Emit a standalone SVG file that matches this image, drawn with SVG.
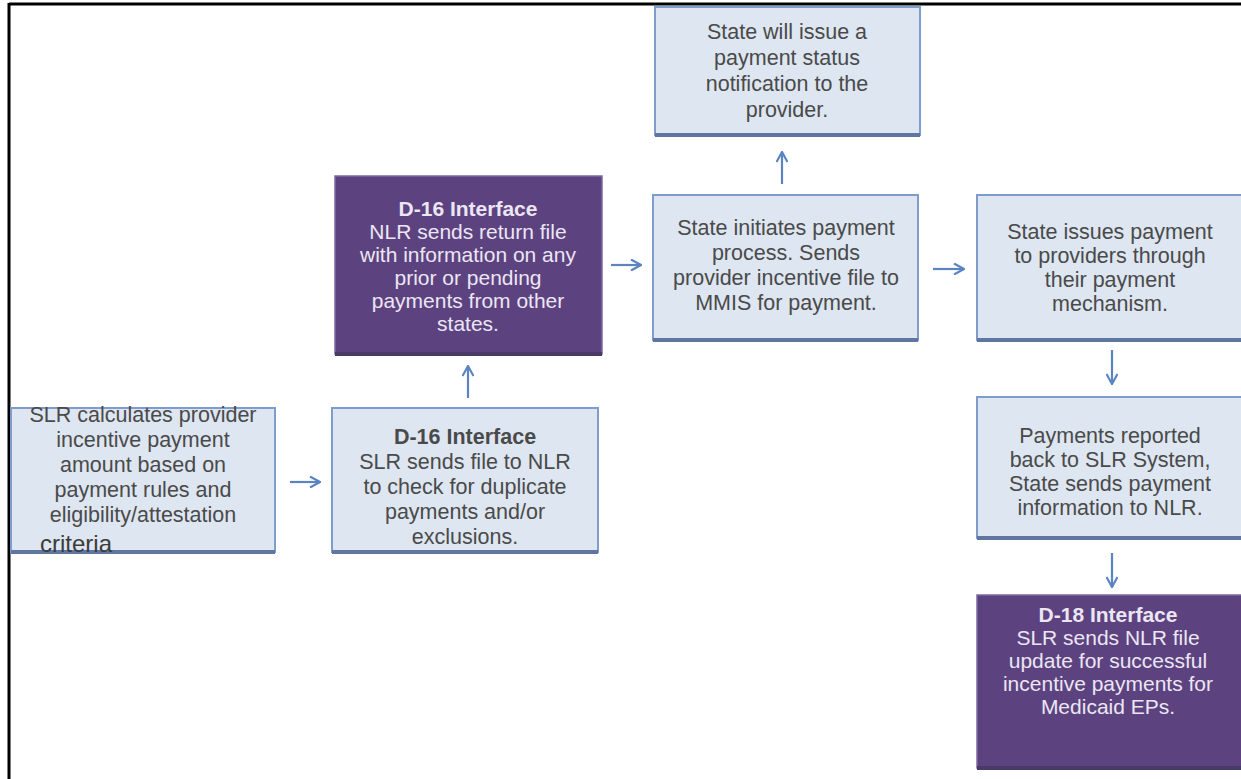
<svg xmlns="http://www.w3.org/2000/svg" width="1241" height="779" viewBox="0 0 1241 779">
<style>
.lb{fill:#dde6f1;stroke:#7f9ccb;stroke-width:2}
.pb{fill:#5c4380;stroke:#7d6aa0;stroke-width:1.5}
.sh{stroke:#5f77a0;stroke-width:4}
.shp{stroke:#4a3a68;stroke-width:4}
.t{font-family:"Liberation Sans",Arial,sans-serif;font-size:21.5px;fill:#4a4a4a;text-anchor:middle}
.tp{font-family:"Liberation Sans",Arial,sans-serif;font-size:21px;fill:#ece6f3;text-anchor:middle}
.b{font-weight:bold}
.ar{stroke:#5a84c2;stroke-width:2.2;fill:none}
</style>
<defs>
<marker id="ah" viewBox="0 0 12 12" refX="11" refY="6" markerWidth="12" markerHeight="12" markerUnits="userSpaceOnUse" orient="auto">
<path d="M1,0.5 L11,6 L1,11.5" fill="none" stroke="#5a84c2" stroke-width="2.2"/>
</marker>
</defs>
<rect width="1241" height="779" fill="#ffffff"/>
<g id="frame">
<line x1="9" y1="4" x2="1241" y2="4" stroke="#000" stroke-width="3"/>
<line x1="9" y1="3" x2="9" y2="779" stroke="#000" stroke-width="3"/>
</g>
<g id="n1">
<rect class="lb" x="11" y="408" width="264" height="144"/>
<line class="sh" x1="11" y1="552" x2="275" y2="552"/>
<text class="t" x="143" y="422">SLR calculates provider</text>
<text class="t" x="143" y="447">incentive payment</text>
<text class="t" x="143" y="472">amount based on</text>
<text class="t" x="143" y="497">payment rules and</text>
<text class="t" x="143" y="522">eligibility/attestation</text>
<text class="t" x="40" y="552" style="text-anchor:start;font-size:24px;fill:#3c3c3c">criteria</text>
</g>
<g id="n2">
<rect class="lb" x="332" y="408" width="266" height="144"/>
<line class="sh" x1="332" y1="552" x2="598" y2="552"/>
<text class="t b" x="465" y="444">D-16 Interface</text>
<text class="t" x="465" y="469">SLR sends file to NLR</text>
<text class="t" x="465" y="494">to check for duplicate</text>
<text class="t" x="465" y="519">payments and/or</text>
<text class="t" x="465" y="544">exclusions.</text>
</g>
<g id="n3">
<rect class="pb" x="335" y="176" width="267" height="178"/>
<line class="shp" x1="335" y1="354" x2="602" y2="354"/>
<text class="tp b" x="468" y="216">D-16 Interface</text>
<text class="tp" x="468" y="239">NLR sends return file</text>
<text class="tp" x="468" y="262">with information on any</text>
<text class="tp" x="468" y="285">prior or pending</text>
<text class="tp" x="468" y="308">payments from other</text>
<text class="tp" x="468" y="331">states.</text>
</g>
<g id="n4">
<rect class="lb" x="653" y="195" width="265" height="145"/>
<line class="sh" x1="653" y1="340" x2="918" y2="340"/>
<text class="t" x="786" y="235">State initiates payment</text>
<text class="t" x="786" y="260">process. Sends</text>
<text class="t" x="786" y="285">provider incentive file to</text>
<text class="t" x="786" y="310">MMIS for payment.</text>
</g>
<g id="n5">
<rect class="lb" x="655" y="7" width="265" height="128"/>
<line class="sh" x1="655" y1="135" x2="920" y2="135"/>
<text class="t" x="787" y="39">State will issue a</text>
<text class="t" x="787" y="65">payment status</text>
<text class="t" x="787" y="91">notification to the</text>
<text class="t" x="787" y="117">provider.</text>
</g>
<g id="n6">
<rect class="lb" x="977" y="195" width="266" height="145"/>
<line class="sh" x1="977" y1="340" x2="1243" y2="340"/>
<text class="t" x="1110" y="239">State issues payment</text>
<text class="t" x="1110" y="263">to providers through</text>
<text class="t" x="1110" y="287">their payment</text>
<text class="t" x="1110" y="311">mechanism.</text>
</g>
<g id="n7">
<rect class="lb" x="977" y="397" width="266" height="141"/>
<line class="sh" x1="977" y1="538" x2="1243" y2="538"/>
<text class="t" x="1110" y="443">Payments reported</text>
<text class="t" x="1110" y="467">back to SLR System,</text>
<text class="t" x="1110" y="491">State sends payment</text>
<text class="t" x="1110" y="515">information to NLR.</text>
</g>
<g id="n8">
<rect class="pb" x="977" y="595" width="266" height="173"/>
<line class="shp" x1="977" y1="768" x2="1243" y2="768"/>
<text class="tp b" x="1108" y="622">D-18 Interface</text>
<text class="tp" x="1108" y="645">SLR sends NLR file</text>
<text class="tp" x="1108" y="668">update for successful</text>
<text class="tp" x="1108" y="691">incentive payments for</text>
<text class="tp" x="1108" y="714">Medicaid EPs.</text>
</g>
<g id="connectors">
<line class="ar" x1="290" y1="482" x2="320" y2="482" marker-end="url(#ah)"/>
<line class="ar" x1="468" y1="398" x2="468" y2="366" marker-end="url(#ah)"/>
<line class="ar" x1="611" y1="265" x2="641" y2="265" marker-end="url(#ah)"/>
<line class="ar" x1="782" y1="184" x2="782" y2="152" marker-end="url(#ah)"/>
<line class="ar" x1="933" y1="269" x2="964" y2="269" marker-end="url(#ah)"/>
<line class="ar" x1="1112" y1="350" x2="1112" y2="384" marker-end="url(#ah)"/>
<line class="ar" x1="1112" y1="553" x2="1112" y2="587" marker-end="url(#ah)"/>
</g>
</svg>
